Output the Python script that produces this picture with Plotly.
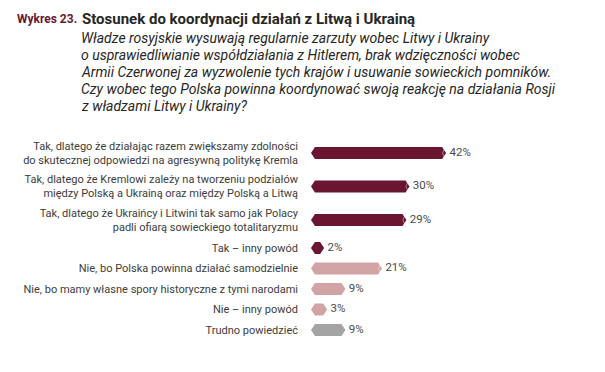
import plotly.graph_objects as go

# ---- data ----
categories = [
    "Tak, dlatego że działając razem zwiększamy zdolności<br>do skutecznej odpowiedzi na agresywną politykę Kremla",
    "Tak, dlatego że Kremlowi zależy na tworzeniu podziałów<br>między Polską a Ukrainą oraz między Polską a Litwą",
    "Tak, dlatego że Ukraińcy i Litwini tak samo jak Polacy<br>padli ofiarą sowieckiego totalitaryzmu",
    "Tak – inny powód",
    "Nie, bo Polska powinna działać samodzielnie",
    "Nie, bo mamy własne spory historyczne z tymi narodami",
    "Nie – inny powód",
    "Trudno powiedzieć",
]
values = [42, 30, 29, 2, 21, 9, 3, 9]
groups = ["tak", "tak", "tak", "tak", "nie", "nie", "nie", "trudno"]

title_label = "Wykres 23."
title_text = "Stosunek do koordynacji działań z Litwą i Ukrainą"
question_lines = [
    "Władze rosyjskie wysuwają regularnie zarzuty wobec Litwy i Ukrainy",
    "o usprawiedliwianie współdziałania z Hitlerem, brak wdzięczności wobec",
    "Armii Czerwonej za wyzwolenie tych krajów i usuwanie sowieckich pomników.",
    "Czy wobec tego Polska powinna koordynować swoją reakcję na działania Rosji",
    "z władzami Litwy i Ukrainy?",
]

# ---- style ----
W, H = 605, 372
OFF = 8                # page body margin offset of the figure
colors = {"tak": "#6a1631", "nie": "#d2a3a5", "trudno": "#a4a4a4"}
FONT = "Roboto"
PX_PER_UNIT = 3.05
X0_PX = 314.5 - OFF    # pixel (in figure) of value 0
PLOT_LEFT = 300 - OFF  # pixel (in figure) where x-domain starts
PAD = 1.15             # extra length each side (data units)
TIP = 1.3              # hexagon tip length (data units)
HALF_H = 6             # half bar height (px; y axis is in pixels)

# row layout: vertical centres derived from number of label lines
row_y = []
cur = 153 - OFF
for i, c in enumerate(categories):
    if i > 0:
        prev_two = "<br>" in categories[i - 1]
        this_two = "<br>" in c
        if prev_two and this_two:
            cur += 33.5
        elif prev_two or this_two:
            cur += 28
        else:
            cur += 20.5
    row_y.append(cur)

fig = go.Figure()
for v, g, y in zip(values, groups, row_y):
    x0, x1 = -PAD, v + PAD
    xs = [x0, x0 + TIP, x1 - TIP, x1, x1 - TIP, x0 + TIP, x0]
    ys = [y, y - HALF_H, y - HALF_H, y, y + HALF_H, y + HALF_H, y]
    fig.add_trace(go.Scatter(x=xs, y=ys, mode="lines", fill="toself",
                             fillcolor=colors[g], line=dict(width=0, color=colors[g]),
                             hoverinfo="skip", showlegend=False))
    if v >= 20:
        cx = x1 - TIP * 0.9
        fig.add_trace(go.Scatter(
            x=[cx + TIP * 0.55, cx, cx + TIP * 0.55],
            y=[y - HALF_H + 1, y, y + HALF_H - 1], mode="lines",
            line=dict(width=1, color="rgba(255,255,255,0.45)"),
            hoverinfo="skip", showlegend=False))

fig.add_trace(go.Scatter(
    x=[v + PAD + 1.1 for v in values], y=row_y, mode="text",
    text=[f"{v}%" for v in values], textposition="middle right",
    textfont=dict(family=FONT, size=11.5, color="#4a4a4a"),
    hoverinfo="skip", showlegend=False))

x_lo = (PLOT_LEFT - X0_PX) / PX_PER_UNIT
x_hi = (W - X0_PX) / PX_PER_UNIT

fig.update_layout(
    width=W, height=H,
    margin=dict(l=0, r=0, t=0, b=0),
    paper_bgcolor="white", plot_bgcolor="white",
    xaxis=dict(domain=[PLOT_LEFT / W, 1], range=[x_lo, x_hi], visible=False,
               fixedrange=True),
    yaxis=dict(range=[H, 0], tickvals=row_y, ticktext=categories,
               showgrid=False, zeroline=False, showline=False, ticks="",
               tickfont=dict(family=FONT, size=11, color="#3c3c3c"),
               ticklabelstandoff=1, automargin=False),
    font=dict(family=FONT),
)


def px(x):
    return (x - OFF) / W


def py(y):
    return 1 - (y - OFF) / H


fig.add_annotation(x=px(15), y=py(19), xref="paper", yref="paper",
                   xanchor="left", yanchor="middle", showarrow=False,
                   text=f"<b>{title_label}</b>",
                   font=dict(family=FONT, size=12, color="#6a1631"))
fig.add_annotation(x=px(80), y=py(19), xref="paper", yref="paper",
                   xanchor="left", yanchor="middle", showarrow=False,
                   text=f"<b>{title_text}</b>",
                   font=dict(family=FONT, size=15, color="#262626"))
for k, line in enumerate(question_lines):
    fig.add_annotation(x=px(79), y=py(38 + 17 * k), xref="paper", yref="paper",
                       xanchor="left", yanchor="middle", showarrow=False,
                       text=f"<i>{line}</i>",
                       font=dict(family=FONT, size=14, color="#262626"))

fig.write_html("out.html")
